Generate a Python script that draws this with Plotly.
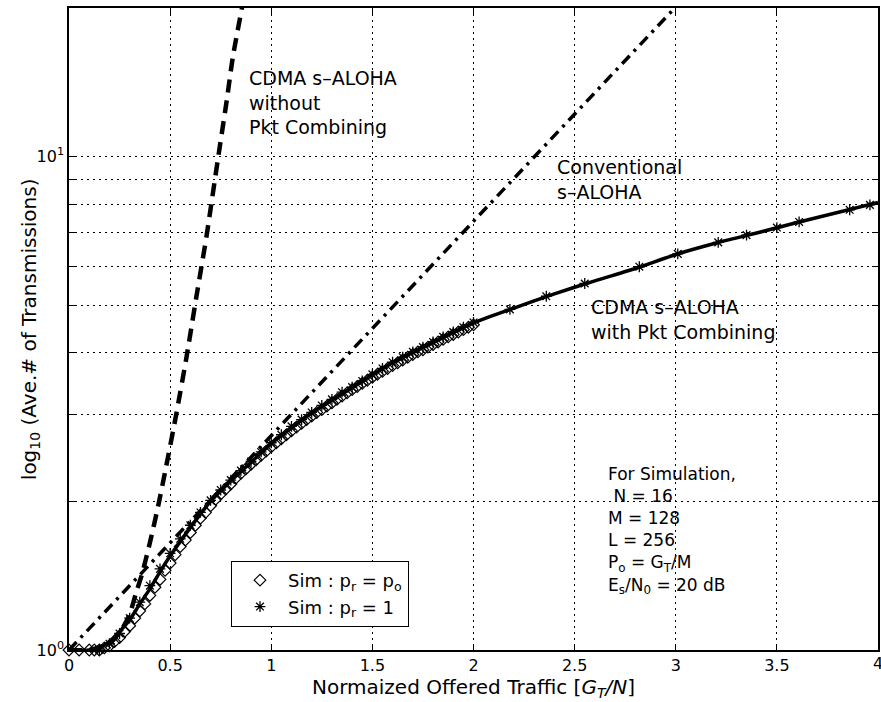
import plotly.graph_objects as go

# Normalized offered traffic G_T/N and average number of transmissions
analysis_x = [0, 0.1, 0.15, 0.2, 0.25, 0.3, 0.35, 0.4, 0.45, 0.5, 0.6, 0.7, 0.8, 0.9, 1.0,
              1.2, 1.4, 1.6, 1.8, 2.0, 2.2, 2.4, 2.6, 2.8, 3.0, 3.2, 3.4, 3.6, 3.8, 4.0]
combining_y = [1.0, 1.0, 1.01, 1.04, 1.09, 1.15, 1.24, 1.33, 1.44, 1.55, 1.77, 2.0, 2.2, 2.4, 2.62,
               3.02, 3.4, 3.82, 4.2, 4.6, 4.93, 5.27, 5.6, 5.93, 6.33, 6.68, 7.0, 7.35, 7.7, 8.07]

conventional_x = [0, 0.5, 1.0, 1.5, 2.0, 2.5, 3.0]
conventional_y = [1.0, 1.65, 2.72, 4.48, 7.39, 12.2, 20.1]

no_combining_x = [0, 0.1, 0.2, 0.26, 0.3, 0.33, 0.36, 0.40, 0.44, 0.48, 0.53, 0.58, 0.63,
                  0.68, 0.735, 0.78, 0.81, 0.86]
no_combining_y = [1.0, 1.0, 1.03, 1.1, 1.18, 1.3, 1.42, 1.65, 1.95, 2.35, 3.0, 3.9, 5.2,
                  6.9, 9.8, 13.0, 15.9, 20.5]

# Simulation, p_r = p_o
sim_po_x = [0.000, 0.025, 0.050, 0.075, 0.100, 0.125, 0.150, 0.175, 0.200, 0.225,
            0.250, 0.275, 0.300, 0.325, 0.350, 0.375, 0.400, 0.425, 0.450, 0.475,
            0.500, 0.525, 0.550, 0.575, 0.600, 0.625, 0.650, 0.675, 0.700, 0.725,
            0.750, 0.775, 0.800, 0.825, 0.850, 0.875, 0.900, 0.925, 0.950, 0.975,
            1.000, 1.025, 1.050, 1.075, 1.100, 1.125, 1.150, 1.175, 1.200, 1.225,
            1.250, 1.275, 1.300, 1.325, 1.350, 1.375, 1.400, 1.425, 1.450, 1.475,
            1.500, 1.525, 1.550, 1.575, 1.600, 1.625, 1.650, 1.675, 1.700, 1.725,
            1.750, 1.775, 1.800, 1.825, 1.850, 1.875, 1.900, 1.925, 1.950, 1.975, 2.000]
sim_po_y = [1.00, 0.99, 1.00, 0.99, 1.00, 1.00, 1.00, 1.01, 1.02, 1.04,
            1.06, 1.09, 1.12, 1.16, 1.20, 1.24, 1.29, 1.34, 1.39, 1.45,
            1.50, 1.56, 1.62, 1.67, 1.73, 1.79, 1.85, 1.90, 1.96, 2.02,
            2.07, 2.12, 2.17, 2.23, 2.28, 2.33, 2.38, 2.43, 2.48, 2.53,
            2.58, 2.63, 2.68, 2.73, 2.78, 2.83, 2.88, 2.93, 2.98, 3.03,
            3.07, 3.12, 3.17, 3.22, 3.27, 3.32, 3.37, 3.42, 3.47, 3.52,
            3.57, 3.62, 3.67, 3.72, 3.77, 3.82, 3.87, 3.92, 3.97, 4.02,
            4.06, 4.11, 4.16, 4.21, 4.26, 4.31, 4.36, 4.41, 4.46, 4.51, 4.56]

# Simulation, p_r = 1
sim_p1_x = [0.00, 0.05, 0.10, 0.15, 0.20, 0.25, 0.30, 0.35, 0.40, 0.45,
            0.50, 0.55, 0.60, 0.65, 0.70, 0.75, 0.80, 0.85, 0.90, 0.95,
            1.00, 1.05, 1.10, 1.15, 1.20, 1.25, 1.30, 1.35, 1.40, 1.45,
            1.50, 1.55, 1.60, 1.65, 1.70, 1.75, 1.80, 1.85, 1.90, 1.95, 2.00,
            2.18, 2.36, 2.55, 2.82, 3.01, 3.21, 3.35, 3.50, 3.61, 3.86, 3.96]
sim_p1_y = [0.98, 0.99, 0.98, 1.00, 1.03, 1.08, 1.16, 1.25, 1.35, 1.46,
            1.57, 1.68, 1.79, 1.90, 2.01, 2.11, 2.21, 2.31, 2.41, 2.52,
            2.63, 2.73, 2.84, 2.93, 3.03, 3.13, 3.22, 3.33, 3.41, 3.51,
            3.62, 3.72, 3.83, 3.92, 4.02, 4.11, 4.21, 4.31, 4.41, 4.51, 4.61,
            4.90, 5.21, 5.53, 5.98, 6.35, 6.70, 6.93, 7.18, 7.37, 7.80, 7.98]

x_ticks = [0, 0.5, 1, 1.5, 2, 2.5, 3, 3.5, 4]
x_ticklabels = ["0", "0.5", "1", "1.5", "2", "2.5", "3", "3.5", ""]
x_edge_label = "4"
y_ticks = [1, 2, 3, 4, 5, 6, 7, 8, 9, 10, 20]
y_ticklabels = ["10<sup>0</sup>", "", "", "", "", "", "", "", "", "10<sup>1</sup>", ""]

FONT = "DejaVu Sans"
INK = "black"

fig = go.Figure()

fig.add_trace(go.Scatter(
    x=no_combining_x, y=no_combining_y, mode="lines", showlegend=False,
    line=dict(color=INK, width=4.5, dash="13px,8px", shape="spline", smoothing=0.6),
))
fig.add_trace(go.Scatter(
    x=conventional_x, y=conventional_y, mode="lines", showlegend=False,
    line=dict(color=INK, width=3.5, dash="11px,6px,3px,6px"),
))
fig.add_trace(go.Scatter(
    x=sim_po_x, y=sim_po_y, mode="markers", name="Sim : p<sub>r</sub> = p<sub>o</sub>",
    marker=dict(symbol="diamond-open", size=9, color=INK, line=dict(width=1.2, color=INK)),
    cliponaxis=False,
))
fig.add_trace(go.Scatter(
    x=sim_p1_x, y=sim_p1_y, mode="markers", name="Sim : p<sub>r</sub> = 1",
    marker=dict(symbol="asterisk-open", size=9, color=INK, line=dict(width=1.3, color=INK)),
    cliponaxis=False,
))
fig.add_trace(go.Scatter(
    x=analysis_x, y=combining_y, mode="lines", showlegend=False,
    line=dict(color=INK, width=3.5, shape="spline", smoothing=0.6),
))

# Curve labels and simulation parameters (block centres; y in log10 units)
labels = [
    ("CDMA s–ALOHA<br>without<br>Pkt Combining", 0.878, 1.1105, 19),
    ("Conventional<br>s–ALOHA", 2.405, 0.9534, 19),
    ("CDMA s–ALOHA<br>with Pkt Combining", 2.570, 0.6704, 19),
    ("For Simulation,<br>&nbsp;N = 16<br>M = 128<br>L = 256<br>"
     "P<sub>o</sub> = G<sub>T</sub>/M<br>E<sub>s</sub>/N<sub>0</sub> = 20 dB",
     2.654, 0.2424, 17),
]
for text, lx, ly, fs in labels:
    fig.add_annotation(x=lx, y=ly, xref="x", yref="y", text=text, showarrow=False,
                       xanchor="left", yanchor="middle", align="left",
                       font=dict(family=FONT, size=fs, color=INK))

# Tick label at the right end of the x axis, cut by the page edge
fig.add_annotation(x=4, y=0, xref="x", yref="paper", text=x_edge_label, showarrow=False,
                   xanchor="center", yanchor="top", yshift=-2,
                   font=dict(family=FONT, size=16, color=INK))

# Vertical axis title
fig.add_annotation(x=-0.048, y=0.5, xref="paper", yref="paper",
                   text="log<sub>10</sub> (Ave.# of Transmissions)", showarrow=False,
                   textangle=-90, xanchor="center", yanchor="middle",
                   font=dict(family=FONT, size=20, color=INK))

axis_common = dict(
    showline=True, linecolor=INK, linewidth=1.5, mirror="allticks",
    ticks="inside", ticklen=6, tickwidth=1, tickcolor=INK,
    showgrid=True, gridcolor=INK, gridwidth=1, griddash="2px,4px",
    zeroline=False, tickfont=dict(family=FONT, size=16, color=INK),
    automargin=False,
)

fig.update_xaxes(
    range=[0, 4], tickvals=x_ticks, ticktext=x_ticklabels,
    title=dict(text="Normaized Offered Traffic [<i>G<sub>T</sub>/N</i>]",
               font=dict(family=FONT, size=20, color=INK), standoff=2),
    **axis_common,
)
fig.update_yaxes(
    type="log", range=[0, 1.30103], tickvals=y_ticks, ticktext=y_ticklabels,
    **axis_common,
)

fig.update_layout(
    width=881, height=702,
    margin=dict(l=69, r=3, t=8, b=52),
    plot_bgcolor="white", paper_bgcolor="white",
    font=dict(family=FONT, color=INK),
    legend=dict(
        x=0.2, y=0.139, xanchor="left", yanchor="top",
        bgcolor="white", bordercolor=INK, borderwidth=1.2,
        font=dict(family=FONT, size=18, color=INK),
        itemwidth=46, tracegroupgap=2,
    ),
)

fig.write_html("out.html")
